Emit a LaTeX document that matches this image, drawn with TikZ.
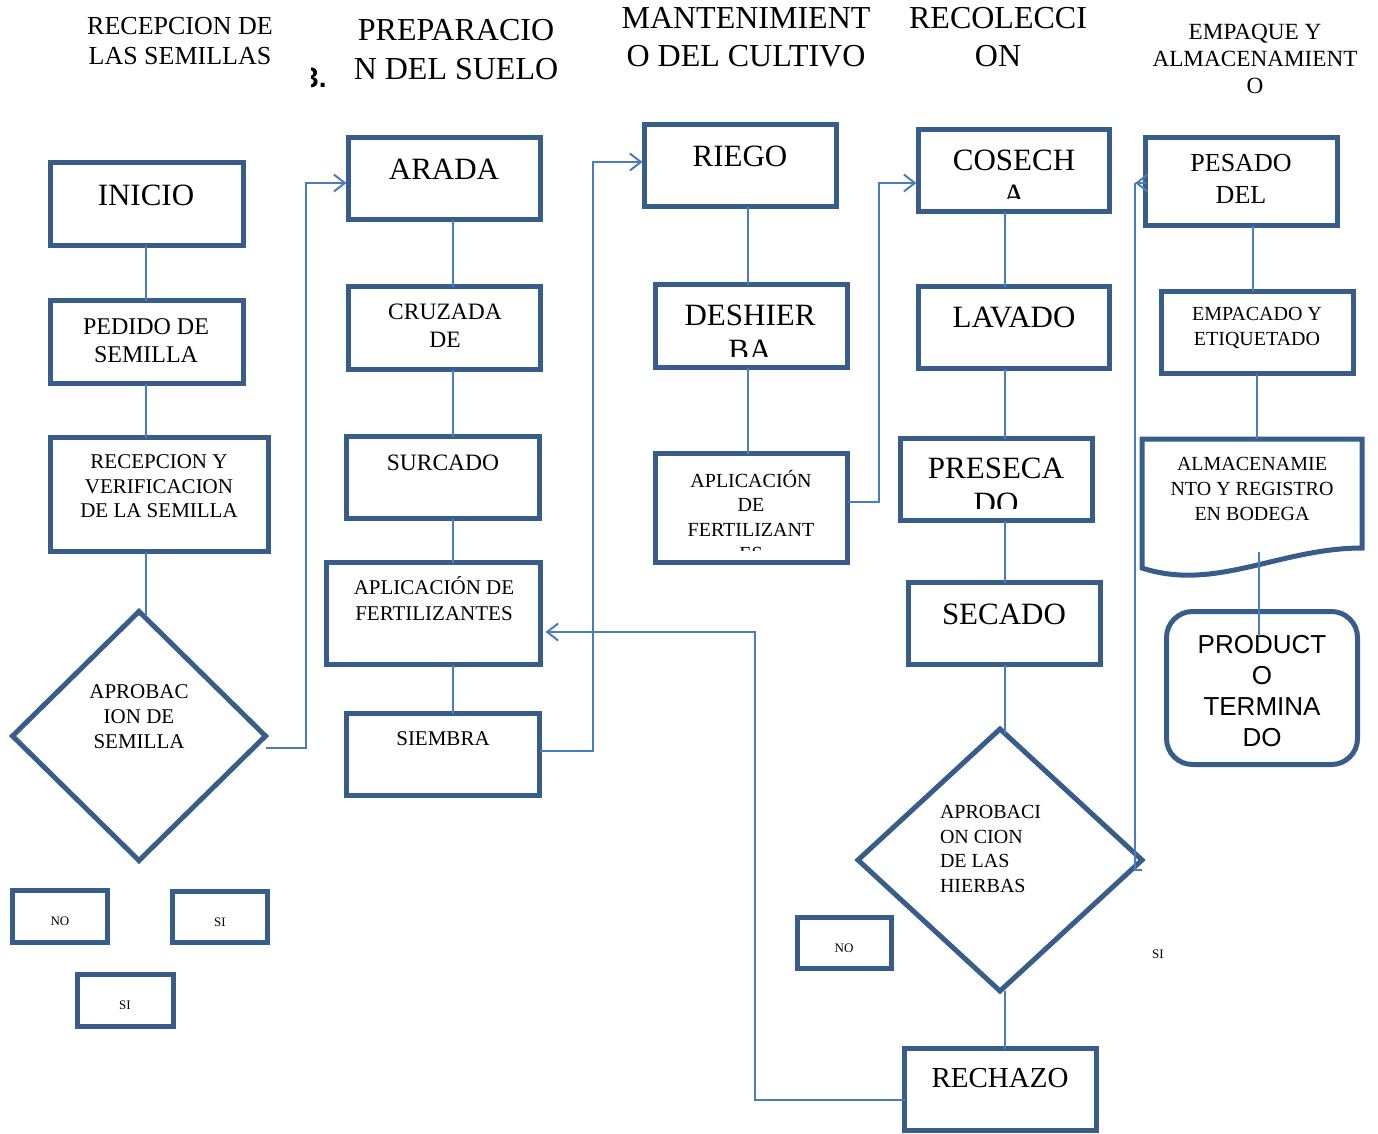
\documentclass[tikz,border=0pt]{standalone}
\usepackage{fontspec}
\setmainfont{Liberation Serif}
\newfontfamily\arialf{Liberation Sans}
\usetikzlibrary{arrows.meta,shapes.geometric,calc}
\definecolor{boxblue}{RGB}{56,93,138}
\definecolor{lineblue}{RGB}{74,126,187}
\newcommand{\fsz}[2]{\fontsize{#1}{#2}\selectfont}
\begin{document}
\begin{tikzpicture}[x=1pt,y=-1pt,
  box/.style={draw=boxblue, line width=5pt, rectangle, inner sep=0pt, outer sep=0pt},
  dia/.style={draw=boxblue, line width=5pt, diamond, inner sep=0pt, outer sep=0pt},
  conn/.style={draw=lineblue, line width=2pt},
  arr/.style={-{Straight Barb[length=11pt,width=17pt]}},
  txt/.style={inner sep=0pt, outer sep=0pt, align=center, text=black}]
\useasboundingbox (0,0) rectangle (1378,1133);

% ---------- headers ----------
\node[txt, font=\fsz{26}{30}] (h1) at (180,41.5) {RECEPCION DE\\LAS SEMILLAS};
\node[txt, font=\fsz{32}{39}] (h2) at (456,49.5) {PREPARACIO\\N DEL SUELO};
\begin{scope}
  \clip (311,50) rectangle (345,100);
  \node[inner sep=0pt, anchor=base west, font=\arialf\bfseries\fsz{28}{30}] (num) at (303,87) {3.};
\end{scope}
\node[txt, font=\fsz{32}{38}] (h3) at (746,37) {MANTENIMIENT\\O DEL CULTIVO};
\node[txt, font=\fsz{32}{38}] (h4) at (998,37) {RECOLECCI\\ON};
\node[txt, font=\fsz{23.2}{27}] (h5) at (1255,59) {EMPAQUE Y\\ALMACENAMIENT\\O};

% ---------- column 1 ----------
\node[box, minimum width=193pt, minimum height=83pt] (inicio) at (147,204) {};
\node[txt, font=\fsz{31}{35}] (tinicio) at (146,195) {INICIO};
\node[box, minimum width=193pt, minimum height=83pt] (pedido) at (147,342) {};
\node[txt, font=\fsz{24}{28}] (tpedido) at (146,341) {PEDIDO DE\\SEMILLA};
\node[box, minimum width=218pt, minimum height=114pt] (recep) at (159.5,494.5) {};
\node[txt, font=\fsz{21}{24.5}] (trecep) at (159,486.5) {RECEPCION Y\\VERIFICACION\\DE LA SEMILLA};
\node[dia, minimum width=253pt, minimum height=249pt] (d1) at (139,736) {};
\node[txt, font=\fsz{21}{25}] (td1) at (139,717) {APROBAC\\ION DE\\SEMILLA};
\node[box, minimum width=95pt, minimum height=52pt] (no1) at (60,916.5) {};
\node[txt, font=\fsz{13}{15}] (tno1) at (60,921) {NO};
\node[box, minimum width=95pt, minimum height=51pt] (si1) at (220,917) {};
\node[txt, font=\fsz{13}{15}] (tsi1) at (220,922) {SI};
\node[box, minimum width=96pt, minimum height=52pt] (si2) at (125.5,1000.5) {};
\node[txt, font=\fsz{13}{15}] (tsi2) at (125,1005) {SI};

% ---------- column 2 ----------
\node[box, minimum width=192pt, minimum height=82pt] (arada) at (444.5,178.5) {};
\node[txt, font=\fsz{31}{35}] (tarada) at (444,169) {ARADA};
\node[box, minimum width=192pt, minimum height=83pt] (cruzada) at (444.5,328) {};
\node[txt, font=\fsz{23.5}{28}] (tcruzada) at (445,326) {CRUZADA\\DE};
\node[box, minimum width=193pt, minimum height=82pt] (surcado) at (443,477.5) {};
\node[txt, font=\fsz{23.5}{28}] (tsurcado) at (443,463) {SURCADO};
\node[box, minimum width=214pt, minimum height=102pt] (aplic1) at (433.5,613.5) {};
\node[txt, font=\fsz{21}{26}] (taplic1) at (434,599) {APLICACIÓN DE\\FERTILIZANTES};
\node[box, minimum width=193pt, minimum height=82pt] (siembra) at (443,754.5) {};
\node[txt, font=\fsz{21}{25}] (tsiembra) at (443,739) {SIEMBRA};

% ---------- column 3 ----------
\node[box, minimum width=192pt, minimum height=82pt] (riego) at (740.5,165.5) {};
\node[txt, font=\fsz{31}{35}] (triego) at (740,156) {RIEGO};
\node[box, minimum width=192pt, minimum height=83pt] (deshierba) at (751.5,326) {};
\begin{scope}
  \clip (655,284) rectangle (848,356);
  \node[txt, font=\fsz{31}{35}] (tdeshierba) at (750,332.5) {DESHIER\\BA};
\end{scope}
\node[box, minimum width=192pt, minimum height=109pt] (aplic2) at (751.5,508) {};
\begin{scope}
  \clip (655,453) rectangle (848,550);
  \node[txt, font=\fsz{20}{24.5}] (taplic2) at (751,515.5) {APLICACIÓN\\DE\\FERTILIZANT\\ES};
\end{scope}

% ---------- column 4 ----------
\node[box, minimum width=191pt, minimum height=82pt] (cosecha) at (1014,170.5) {};
\begin{scope}
  \clip (918,129) rectangle (1110,198);
  \node[txt, font=\fsz{31}{35}] (tcosecha) at (1014,177.5) {COSECH\\A};
\end{scope}
\node[box, minimum width=191pt, minimum height=82pt] (lavado) at (1014,327.5) {};
\node[txt, font=\fsz{31}{35}] (tlavado) at (1014,317) {LAVADO};
\node[box, minimum width=192pt, minimum height=82pt] (presecado) at (996.5,479.5) {};
\begin{scope}
  \clip (900,438) rectangle (1093,508);
  \node[txt, font=\fsz{31}{35}] (tpresecado) at (996,485.5) {PRESECA\\DO};
\end{scope}
\node[box, minimum width=192pt, minimum height=82pt] (secado) at (1004.5,623.5) {};
\node[txt, font=\fsz{31}{35}] (tsecado) at (1004,614) {SECADO};
\node[dia, minimum width=284pt, minimum height=262pt] (d2) at (1000,860) {};
\node[txt, align=left, anchor=west, font=\fsz{20}{24.7}] (td2) at (940,849) {APROBACI\\ON CION\\DE LAS\\HIERBAS};
\node[box, minimum width=192pt, minimum height=82pt] (rechazo) at (1000.5,1089.5) {};
\node[txt, font=\fsz{29}{33}] (trechazo) at (1000,1078) {RECHAZO};
\node[box, minimum width=94pt, minimum height=51pt] (no2) at (844.5,943) {};
\node[txt, font=\fsz{13}{15}] (tno2) at (844,948) {NO};
\node[txt, font=\fsz{13}{15}] (tsi3) at (1158,954) {SI};

% ---------- column 5 ----------
\node[box, minimum width=192pt, minimum height=88pt] (pesado) at (1241.5,181.5) {};
\node[txt, font=\fsz{26}{32}] (tpesado) at (1241,179) {PESADO\\DEL};
\node[box, minimum width=192pt, minimum height=82pt] (empacado) at (1257.5,332.5) {};
\node[txt, font=\fsz{20}{25}] (tempacado) at (1257,327.5) {EMPACADO Y\\ETIQUETADO};
\draw[draw=boxblue, line width=5pt] (1142,439) -- (1362,439) -- (1362,548)
  .. controls (1280,548) and (1215,592) .. (1142,568) -- cycle;
\coordinate (almtop) at (1257,439);
\coordinate (almbot) at (1259,552);
\node[txt, font=\fsz{20}{25}] (talm) at (1252,489) {ALMACENAMIE\\NTO Y REGISTRO\\EN BODEGA};
\node[box, rounded corners=26pt, minimum width=191pt, minimum height=153pt] (prod) at (1262,688) {};
\node[txt, font=\arialf\fsz{26}{30.7}] (tprod) at (1262,691) {PRODUCT\\O\\TERMINA\\DO};

% ---------- connectors ----------
\coordinate (c1) at (146,0);
\coordinate (c2) at (453,0);
\coordinate (c3) at (748,0);
\coordinate (c4) at (1005,0);
\draw[conn] (inicio.south -| c1) -- (pedido.north -| c1);
\draw[conn] (pedido.south -| c1) -- (recep.north -| c1);
\draw[conn] (recep.south -| c1) -- ($(d1.north -| c1)+(0,4)$);
\draw[conn, arr] ($(d1.east)+(0,12)$) -- ++(40,0) |- ($(arada.west)+(-2,4.5)$);

\draw[conn] (arada.south -| c2) -- (cruzada.north -| c2);
\draw[conn] (cruzada.south -| c2) -- (surcado.north -| c2);
\draw[conn] (surcado.south -| c2) -- (aplic1.north -| c2);
\draw[conn] (aplic1.south -| c2) -- (siembra.north -| c2);
\draw[conn, arr] ($(siembra.east)+(0,-4)$) -- ++(53,0) |- ($(riego.west)+(-2,-3.5)$);

\draw[conn] (riego.south -| c3) -- (deshierba.north -| c3);
\draw[conn] (deshierba.south -| c3) -- (aplic2.north -| c3);
\draw[conn, arr] ($(aplic2.east)+(0,-6)$) -- ++(31,0) |- ($(cosecha.west)+(-2,12.5)$);

\draw[conn] (cosecha.south -| c4) -- (lavado.north -| c4);
\draw[conn] (lavado.south -| c4) -- (presecado.north -| c4);
\draw[conn] (presecado.south -| c4) -- (secado.north -| c4);
\draw[conn] (secado.south -| c4) -- ($(d2.north -| c4)+(0,5)$);
\draw[conn] (d2.south -| c4) -- (rechazo.north -| c4);
\draw[conn, arr] ($(rechazo.west)+(0,10.5)$) -- ++(-150,0) |- ($(aplic1.east)+(5,18.5)$);

\coordinate (q) at (1135,183);
\draw[conn] ($(d2.east)+(0,10)$) -| (q);
\draw[conn, {Straight Barb[length=11pt,width=17pt]}-] (q) -- (pesado.west |- q);

\draw[conn] (pesado.south -| 1253,0) -- (empacado.north -| 1253,0);
\draw[conn] (empacado.south -| almtop) -- (almtop);
\draw[conn] (almbot) -- ($(prod.north -| almbot)+(0,24)$);
\end{tikzpicture}
\end{document}
